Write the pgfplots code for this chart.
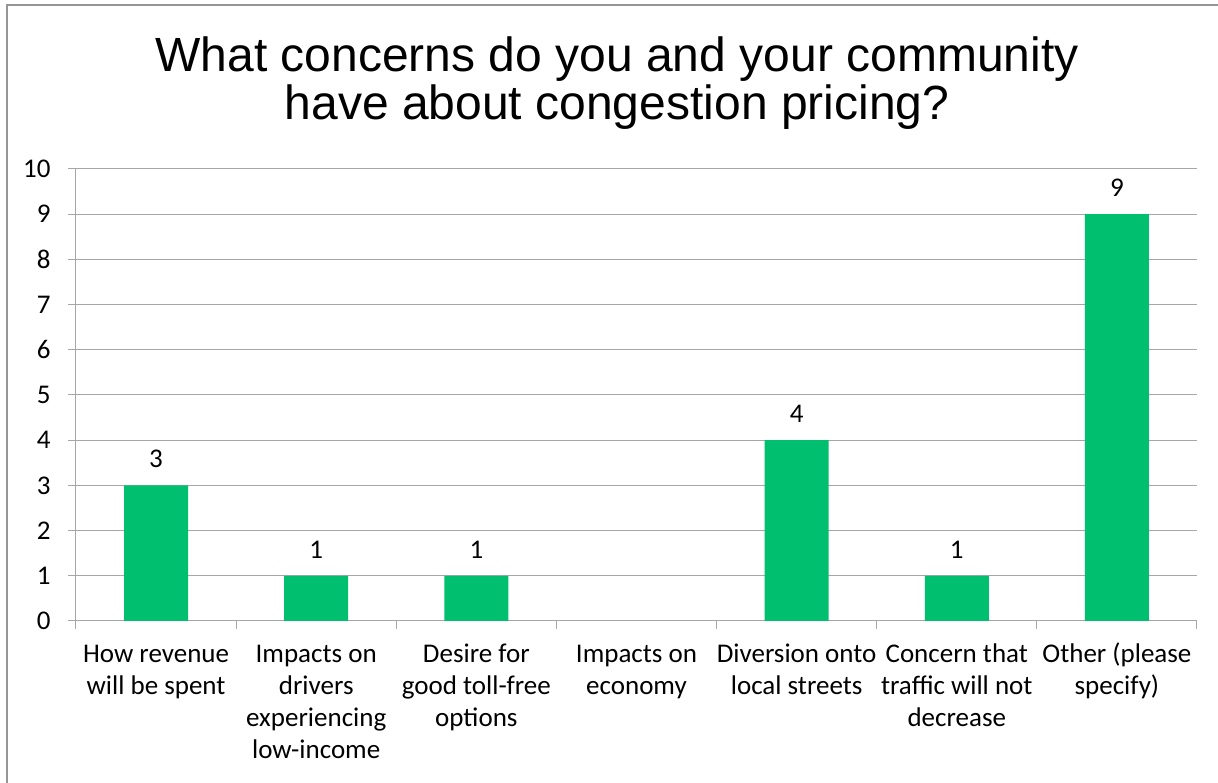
\documentclass[border=0pt]{standalone}
\usepackage{pgfplots}
\pgfplotsset{compat=1.18}
\usepackage{fontspec}
\setmainfont{Carlito}
\newfontfamily\titlefont{Liberation Sans}
\definecolor{barg}{RGB}{0,191,111}
\definecolor{gridc}{RGB}{166,166,166}
\definecolor{framec}{RGB}{150,150,150}
\begin{document}
\begin{tikzpicture}[x=1pt,y=1pt]
\path[use as bounding box] (-76,-162) rectangle (1142,621);
\draw[framec, line width=2pt] (-69,-162) -- (-69,616) -- (1142,616);
\node[anchor=base, font=\titlefont\fontsize{48}{50}\selectfont] at (541,549) {What concerns do you and your community};
\node[anchor=base, font=\titlefont\fontsize{48}{50}\selectfont] at (541,501) {have about congestion pricing?};
\begin{axis}[
  at={(0,0)}, anchor=south west,
  scale only axis, width=1121pt, height=452pt,
  xmin=-0.5, xmax=6.5, ymin=0, ymax=10,
  ytick={0,...,10},
  xtick={-0.5,0.5,...,6.5},
  xticklabels={},
  extra x ticks={0,1,2,3,4,5,6},
  extra x tick labels={{\strut How revenue\\will be spent},{\strut Impacts on\\drivers\\experiencing\\low-income},{\strut Desire for\\good toll-free\\options},{\strut Impacts on\\economy},{\strut Diversion onto\\local streets},{\strut Concern that\\traffic will not\\decrease},{\strut Other (please\\specify)}},
  extra x tick style={major tick length=0pt},
  axis x line*=bottom, axis y line*=left,
  axis line style={gridc, line width=1pt, -},
  ymajorgrids, grid style={gridc, line width=1pt},
  tick align=outside,
  major tick length=8pt,
  every tick/.style={gridc, line width=1pt},
  /pgf/number format/assume math mode=true,
  ticklabel style={font=\fontsize{27}{32}\selectfont, text=black},
  xticklabel style={align=center, yshift=-16pt},
  yticklabel style={xshift=-14pt},
  ybar, bar width=64pt,
  nodes near coords,
  every node near coord/.append style={font=\fontsize{27}{32}\selectfont, text=black, yshift=14pt},
  clip=false,
]
\addplot[fill=barg, draw=none] coordinates {(0,3) (1,1) (2,1) (4,4) (5,1) (6,9)};
\end{axis}
\end{tikzpicture}
\end{document}
